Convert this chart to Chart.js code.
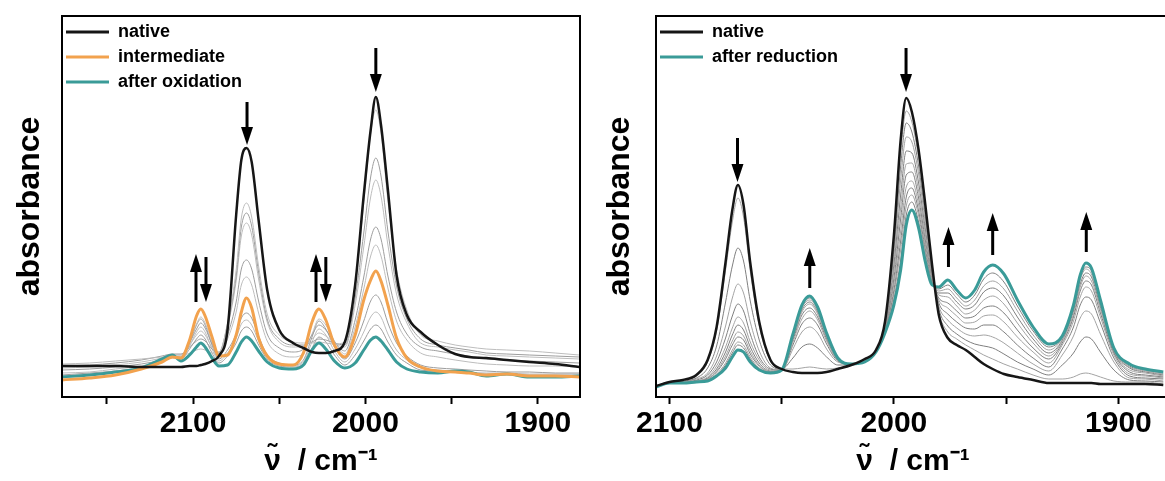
<!DOCTYPE html>
<html>
<head>
<meta charset="utf-8">
<script src="https://cdn.jsdelivr.net/npm/chart.js@4.4.1/dist/chart.umd.min.js"></script>
<style>
  html, body { margin: 0; padding: 0; background: #fff; }
  body { width: 1165px; height: 481px; overflow: hidden; position: relative; }
  .panel { position: absolute; top: 0; }
  #left { left: 0; }
  #right { left: 590px; }
</style>
</head>
<body>
<div class="panel" id="left"><canvas id="chartLeft" width="590" height="481"></canvas></div>
<div class="panel" id="right"><canvas id="chartRight" width="600" height="481"></canvas></div>
<script>
// ---- left panel: oxidation series (wavenumber in cm-1, absorbance in arbitrary units) ----
const wnLeft = [2176, 2160, 2145, 2130, 2118, 2112, 2107, 2102, 2098, 2095.5, 2093, 2089, 2085, 2080, 2075, 2072, 2069, 2066, 2062, 2057, 2050, 2042, 2036, 2031, 2027, 2023, 2018, 2012, 2006, 2001, 1997, 1994, 1991, 1987, 1982, 1976, 1968, 1958, 1948, 1940, 1930, 1918, 1905, 1890, 1876];
const nativeLeft = [31,31,31,30,30,30,30,31,31,32,33,36,41,67,182,237,249,235,177,107,67,54,49,45,44,44,46,55,112,202,267,300,272,207,122,82,65,52,43,40,39,37,35,33,30];
const intermediate = [17,19,22,28,35,40,39,57,81,88,81,60,41,42,62,85,99,89,59,41,33,32,44,75,88,77,52,40,62,97,117,126,116,92,59,39,30,26,25,24,22,23,21,21,20];
const afterOxidation = [20,22,25,29,38,42,36,42,50,54,50,39,31,32,45,55,60,56,46,35,29,28,32,47,54,48,36,29,34,47,57,60,56,47,35,28,25,24,26,25,21,23,20,20,21];
const stepsLeft = [
  [33,34,36,38,40,41,41,44,47,48,47,44,44,74,127,179,194,180,131,83,62,55,54,54,55,54,53,55,113,194,264,287,264,196,128,87,62,56,52,50,48,47,46,44,42],
  [31,32,34,37,41,43,43,50,56,58,56,48,45,73,121,170,184,171,125,78,58,52,52,55,58,57,54,52,99,164,220,239,221,166,111,78,58,52,49,47,44,43,42,41,40],
  [29,30,32,35,39,42,42,52,62,66,62,50,44,70,116,161,174,162,118,75,55,50,51,58,64,61,54,50,92,150,200,217,201,152,103,74,54,50,47,45,42,41,40,39,38],
  [27,28,30,33,37,40,40,54,68,74,69,53,43,62,95,128,137,128,96,63,49,45,48,62,72,67,55,46,77,120,158,170,158,121,85,63,50,46,43,41,38,37,36,35,34],
  [24,25,28,31,36,39,39,56,73,80,74,55,42,58,85,112,120,112,84,56,43,40,44,63,78,72,56,43,70,108,141,152,141,109,76,57,44,40,37,35,33,32,31,31,30],
  [20,22,25,29,36,40,39,54,72,78,72,52,38,47,63,79,84,79,61,42,34,32,37,60,76,68,50,38,54,76,96,102,95,74,54,41,32,29,28,27,26,25,25,24,24],
  [21,23,26,29,36,40,38,51,65,70,65,48,36,44,59,73,77,72,56,40,32,31,35,55,68,62,46,35,48,65,80,85,80,63,47,37,29,27,26,25,24,24,23,23,23],
  [22,24,26,30,37,41,38,48,58,62,58,44,34,41,54,66,70,66,52,38,31,30,33,49,60,55,42,32,42,56,68,72,68,55,42,34,27,26,25,24,23,23,22,22,22]
];
const ticksLeft = [2150, 2100, 2050, 2000, 1950, 1900];
// arrows: position (cm-1), tail and tip (absorbance units)
const arrowsLeft = [
  { at: 2068.7, from: 295, to: 252 },
  { at: 1994, from: 349, to: 305 },
  { at: 2098.3, from: 95, to: 143 },
  { at: 2092.5, from: 140, to: 95 },
  { at: 2028.7, from: 95, to: 143 },
  { at: 2023, from: 140, to: 95 }
];

// ---- right panel: reduction series ----
const wnRight = [2106, 2100, 2094, 2088, 2083, 2079, 2075, 2072, 2069.5, 2067, 2064, 2060, 2055, 2050, 2045, 2041, 2037.5, 2034, 2030, 2025, 2019, 2013, 2008, 2004, 2000, 1997, 1994.5, 1992, 1989, 1986, 1983, 1980, 1976, 1972, 1968, 1964, 1960, 1956, 1951, 1945, 1938, 1931, 1925, 1920, 1917, 1914.5, 1912, 1908, 1902, 1895, 1888, 1880];
const nativeRight = [11,15,17,22,37,70,135,187,212,192,134,75,37,28,25,24,24,24,25,28,32,38,47,75,162,257,299,285,247,192,132,82,59,52,47,40,33,28,23,20,17,14,14,14,14,14,14,13,13,13,13,12];
const afterReduction = [10,14,14,15,16,21,29,40,47,45,35,27,24,27,63,92,101,90,64,39,33,35,45,64,92,127,172,187,169,135,112,110,117,107,99,107,125,132,123,97,70,53,61,92,122,134,129,97,49,33,28,25];
const stepsRight = [
  [11,15,17,21,35,66,127,175,199,180,126,71,36,28,28,29,30,29,28,29,32,38,47,74,155,244,286,275,239,186,130,85,65,58,52,47,42,38,33,28,22,18,18,20,23,24,23,20,16,15,15,13],
  [11,15,16,19,29,51,95,131,149,136,96,57,32,28,39,50,53,49,40,32,32,37,47,73,148,231,274,265,231,181,128,88,71,63,57,53,51,49,43,35,28,22,32,44,55,60,58,45,27,17,16,15],
  [10,14,15,18,24,41,71,99,113,104,75,46,29,27,48,65,70,64,48,35,33,36,46,72,140,217,260,255,223,174,126,91,77,69,63,61,62,60,54,44,33,26,42,61,79,86,83,63,35,19,18,16],
  [10,14,15,17,22,35,59,81,93,86,63,40,28,27,52,73,79,72,53,36,33,36,46,70,133,202,246,244,214,168,124,94,83,75,69,68,72,72,65,52,39,30,48,70,92,100,97,74,39,21,19,18],
  [10,14,15,16,20,31,50,69,80,74,55,37,27,27,55,78,86,77,56,37,33,36,46,69,126,189,233,234,206,162,122,97,89,81,74,75,81,82,75,60,45,34,52,76,100,110,106,80,42,23,21,19],
  [10,14,14,16,19,28,45,62,72,67,50,34,26,27,57,82,89,80,58,37,33,35,46,68,119,178,222,225,199,157,120,99,94,86,79,81,89,91,84,67,49,38,54,80,106,116,112,84,44,25,22,20],
  [10,14,14,16,18,26,41,56,65,61,46,32,25,27,59,85,93,83,60,38,33,35,46,67,113,166,210,216,192,152,118,102,100,91,83,87,97,101,93,74,54,41,56,83,110,121,116,88,45,27,24,21],
  [10,14,14,16,18,25,38,52,60,57,43,31,25,27,60,87,95,85,61,38,33,35,45,66,107,156,200,209,186,148,116,104,104,95,88,92,105,109,101,80,58,44,57,86,113,124,120,90,46,29,25,22],
  [10,14,14,15,17,23,34,47,55,52,40,29,25,27,61,89,97,87,62,39,33,35,45,66,103,147,191,202,181,144,115,106,108,99,91,97,111,116,108,86,62,47,59,88,117,128,123,93,47,30,26,23],
  [10,14,14,15,17,22,32,44,52,49,38,28,24,27,62,90,99,88,63,39,33,35,45,65,98,137,182,195,175,140,114,108,112,103,95,102,118,124,115,91,66,50,60,90,119,130,126,95,48,31,27,24]
];
const ticksRight = [2100, 2050, 2000, 1950, 1900];
const arrowsRight = [
  { at: 2069.7, from: 259, to: 215 },
  { at: 2037.5, from: 109, to: 149 },
  { at: 1994.6, from: 349, to: 305 },
  { at: 1975.7, from: 130, to: 170 },
  { at: 1956, from: 142, to: 184 },
  { at: 1914.3, from: 145, to: 185 }
];

const BLACK = '#161616';
const ORANGE = '#f2a24e';
const TEAL = '#3a9b98';

Chart.defaults.font.family = "'Liberation Sans', Arial, sans-serif";
Chart.defaults.animation = false;

function line(label, wn, vals, color, width) {
  return {
    label: label,
    data: wn.map((w, i) => ({ x: w, y: vals[i] })),
    borderColor: color,
    backgroundColor: color,
    borderWidth: width,
    pointRadius: 0,
    cubicInterpolationMode: 'monotone',
    fill: false
  };
}

function arrowPlugin(list) {
  return {
    id: 'arrows',
    afterDatasetsDraw(chart) {
      const { ctx, scales: { x, y } } = chart;
      ctx.save();
      ctx.fillStyle = '#000';
      ctx.strokeStyle = '#000';
      ctx.lineWidth = 3;
      list.forEach(a => {
        const px = x.getPixelForValue(a.at);
        const y0 = y.getPixelForValue(a.from);
        const y1 = y.getPixelForValue(a.to);
        const dir = y1 > y0 ? 1 : -1;
        const head = 18;
        ctx.beginPath();
        ctx.moveTo(px, y0);
        ctx.lineTo(px, y1 - dir * head);
        ctx.stroke();
        ctx.beginPath();
        ctx.moveTo(px, y1);
        ctx.lineTo(px - 6, y1 - dir * head);
        ctx.lineTo(px + 6, y1 - dir * head);
        ctx.closePath();
        ctx.fill();
      });
      ctx.restore();
    }
  };
}

const framePlugin = {
  id: 'frame',
  afterDraw(chart) {
    const { ctx, chartArea: a } = chart;
    ctx.save();
    ctx.strokeStyle = '#000';
    ctx.lineWidth = 2;
    ctx.strokeRect(a.left, a.top, a.right - a.left, a.bottom - a.top);
    ctx.restore();
  }
};

// nudge the in-plot legend a little down and left, as in the figure
const legendNudge = {
  id: 'legendNudge',
  afterLayout(chart) {
    if (!chart.legend) return;
    chart.legend.top += 16;
    chart.legend.left -= 3;
  }
};

function makeChart(canvasId, cfg) {
  const nMain = cfg.main.length;
  const datasets = cfg.main.map(m => line(m.label, cfg.wn, m.vals, m.color, m.width));
  cfg.steps.forEach((vals, i) => {
    datasets.push(line('', cfg.wn, vals, i % 2 ? cfg.grayA : cfg.grayB, 1));
  });

  return new Chart(document.getElementById(canvasId), {
    type: 'line',
    data: { datasets: datasets },
    plugins: [arrowPlugin(cfg.arrows), framePlugin, legendNudge],
    options: {
      responsive: false,
      events: [],
      layout: { padding: { top: 16, right: cfg.padRight, left: 0, bottom: 0 } },
      plugins: {
        tooltip: { enabled: false },
        legend: {
          position: 'chartArea',
          align: 'start',
          labels: {
            boxWidth: 43,
            boxHeight: 3,
            padding: 7,
            color: '#111',
            font: { size: 18, weight: 'bold' },
            generateLabels: chart => chart.data.datasets.slice(0, nMain).map((ds, i) => ({
              text: ds.label,
              fillStyle: ds.borderColor,
              strokeStyle: ds.borderColor,
              lineWidth: 0,
              hidden: false,
              datasetIndex: i
            }))
          }
        }
      },
      scales: {
        x: {
          type: 'linear',
          reverse: true,
          min: cfg.xMin,
          max: cfg.xMax,
          afterFit: s => { s.height = 84; },
          afterBuildTicks: s => { s.ticks = cfg.ticks.map(v => ({ value: v })); },
          border: { display: false },
          grid: { display: true, drawOnChartArea: false, drawTicks: true, tickLength: 7, tickWidth: 2, tickColor: '#000' },
          ticks: {
            autoSkip: false,
            maxRotation: 0,
            color: '#000',
            padding: 2,
            font: { size: 30, weight: 'bold' },
            callback: v => (v % 100 === 0 ? String(v) : '')
          },
          title: {
            display: true,
            text: '\u03BD\u0303  / cm\u207B\u00B9',
            color: '#000',
            font: { size: 30, weight: 'bold' },
            padding: { top: 0, bottom: 1 }
          }
        },
        y: {
          min: 0,
          max: 381,
          afterFit: s => { s.width = cfg.yWidth; },
          border: { display: false },
          grid: { display: false },
          ticks: { display: false },
          title: {
            display: true,
            text: 'absorbance',
            color: '#000',
            font: { size: 32, weight: 'bold' },
            padding: { top: 11, bottom: 0 }
          }
        }
      }
    }
  });
}

makeChart('chartLeft', {
  wn: wnLeft,
  main: [
    { label: 'native', vals: nativeLeft, color: BLACK, width: 2.5 },
    { label: 'intermediate', vals: intermediate, color: ORANGE, width: 3 },
    { label: 'after oxidation', vals: afterOxidation, color: TEAL, width: 3 }
  ],
  steps: stepsLeft,
  grayA: '#9d9d9d',
  grayB: '#bdbdbd',
  arrows: arrowsLeft,
  ticks: ticksLeft,
  xMin: 1875.6,
  xMax: 2176,
  yWidth: 62,
  padRight: 10
});

makeChart('chartRight', {
  wn: wnRight,
  main: [
    { label: 'native', vals: nativeRight, color: BLACK, width: 2.5 },
    { label: 'after reduction', vals: afterReduction, color: TEAL, width: 3 }
  ],
  steps: stepsRight,
  grayA: '#7f7f7f',
  grayB: '#a3a3a3',
  arrows: arrowsRight,
  ticks: ticksRight,
  xMin: 1877,
  xMax: 2106,
  yWidth: 66,
  padRight: 20
});
</script>
</body>
</html>
